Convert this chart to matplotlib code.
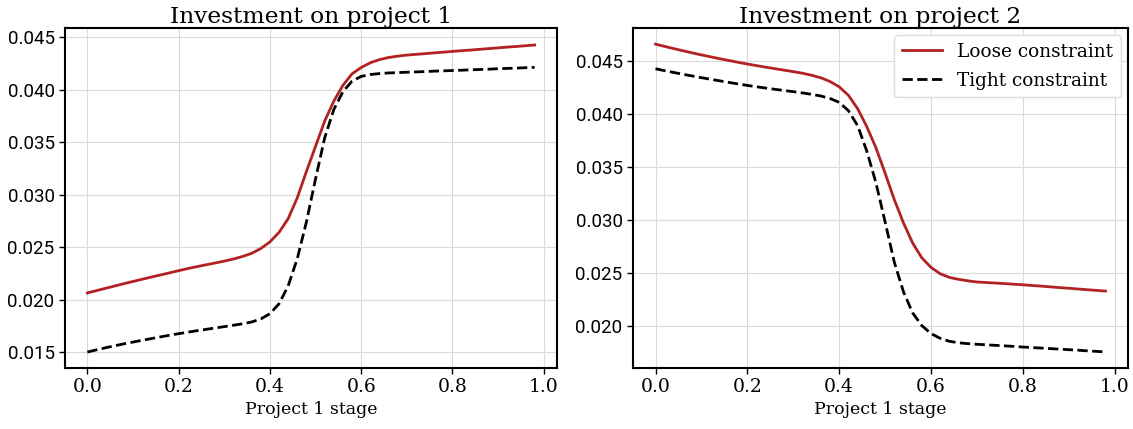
import numpy as np
import matplotlib.pyplot as plt

# stage grid
stage = np.round(np.arange(0, 1.0, 0.02), 2)

# project 1 investment
p1_loose = [0.02063, 0.02085, 0.02107, 0.02129, 0.02151, 0.02172, 0.02193, 0.02214, 0.02234, 0.02254,
            0.02275, 0.02295, 0.02313, 0.02331, 0.02348, 0.02366, 0.02386, 0.02410, 0.02440, 0.02486,
            0.02549, 0.02640, 0.02770, 0.02970, 0.03220, 0.03460, 0.03700, 0.03890, 0.04040, 0.04150,
            0.04210, 0.04255, 0.04285, 0.04305, 0.04318, 0.04328, 0.04335, 0.04342, 0.04349, 0.04356,
            0.04363, 0.04370, 0.04376, 0.04383, 0.04390, 0.04397, 0.04404, 0.04410, 0.04417, 0.04424]
p1_tight = [0.01500, 0.01521, 0.01541, 0.01560, 0.01578, 0.01595, 0.01612, 0.01628, 0.01644, 0.01660,
            0.01675, 0.01689, 0.01703, 0.01716, 0.01729, 0.01742, 0.01755, 0.01769, 0.01786, 0.01815,
            0.01865, 0.01960, 0.02130, 0.02390, 0.02740, 0.03150, 0.03540, 0.03810, 0.03980, 0.04080,
            0.04125, 0.04143, 0.04152, 0.04158, 0.04161, 0.04165, 0.04168, 0.04171, 0.04175, 0.04178,
            0.04181, 0.04184, 0.04188, 0.04191, 0.04194, 0.04198, 0.04201, 0.04204, 0.04208, 0.04211]

# project 2 investment
p2_loose = [0.04658, 0.04636, 0.04615, 0.04595, 0.04575, 0.04556, 0.04538, 0.04520, 0.04503, 0.04486,
            0.04470, 0.04455, 0.04440, 0.04426, 0.04412, 0.04398, 0.04383, 0.04364, 0.04340, 0.04305,
            0.04255, 0.04175, 0.04050, 0.03880, 0.03680, 0.03440, 0.03190, 0.02970, 0.02780, 0.02640,
            0.02550, 0.02490, 0.02455, 0.02437, 0.02423, 0.02412, 0.02407, 0.02402, 0.02397, 0.02391,
            0.02386, 0.02379, 0.02373, 0.02366, 0.02359, 0.02353, 0.02346, 0.02339, 0.02333, 0.02326]
p2_tight = [0.04425, 0.04407, 0.04390, 0.04373, 0.04357, 0.04341, 0.04326, 0.04311, 0.04296, 0.04282,
            0.04268, 0.04255, 0.04243, 0.04231, 0.04220, 0.04209, 0.04197, 0.04184, 0.04168, 0.04145,
            0.04108, 0.04030, 0.03890, 0.03650, 0.03350, 0.02980, 0.02600, 0.02320, 0.02120, 0.02000,
            0.01925, 0.01880, 0.01852, 0.01838, 0.01830, 0.01824, 0.01819, 0.01814, 0.01809, 0.01804,
            0.01798, 0.01793, 0.01788, 0.01783, 0.01778, 0.01773, 0.01768, 0.01762, 0.01757, 0.01752]

titles = ["Investment on project 1", "Investment on project 2"]
xlabel = "Project 1 stage"
xticks = [0.0, 0.2, 0.4, 0.6, 0.8, 1.0]
yticks1 = [0.015, 0.020, 0.025, 0.030, 0.035, 0.040, 0.045]
yticks2 = [0.020, 0.025, 0.030, 0.035, 0.040, 0.045]

serif = ['DejaVu Serif']
sans = ['Roboto', 'DejaVu Sans']
red = '#b22222'

fig = plt.figure(figsize=(11.33, 4.29), dpi=100)
ax1 = fig.add_axes([65/1133, 61/429, 492/1133, 340/429])
ax2 = fig.add_axes([633/1133, 61/429, 495/1133, 340/429])

for ax, loose, tight, title, yt in [(ax1, p1_loose, p1_tight, titles[0], yticks1),
                                    (ax2, p2_loose, p2_tight, titles[1], yticks2)]:
    ax.plot(stage, loose, color=red, lw=2, label="Loose constraint")
    ax.plot(stage, tight, color='black', lw=2, ls='--', label="Tight constraint")
    ax.set_title(title, family=serif, fontsize=16.8, pad=2)
    ax.set_xlabel(xlabel, family=serif, fontsize=12.5, labelpad=3)
    ax.grid(True, color='#dadada', lw=0.8)
    ax.set_axisbelow(True)
    for s in ax.spines.values():
        s.set_linewidth(1.5)
    ax.set_xticks(xticks)
    ax.set_xticklabels([f"{v:.1f}" for v in xticks], family=serif, fontsize=13.5)
    ax.set_yticks(yt)
    ax.set_yticklabels([f"{v:.3f}" for v in yt], family=sans, fontsize=13.5)
    ax.tick_params(axis='both', length=4, width=1)
    ax.set_xlim(-0.049, 1.029)

ax1.set_ylim(0.01348, 0.04586)
ax2.set_ylim(0.0160, 0.0481)

ax2.legend(loc='upper right', prop={'family': serif, 'size': 13.3}, handlelength=2.2,
           labelspacing=0.6, borderaxespad=0.4, framealpha=1, edgecolor='#dddddd')

fig.savefig("out.png", dpi=100)
